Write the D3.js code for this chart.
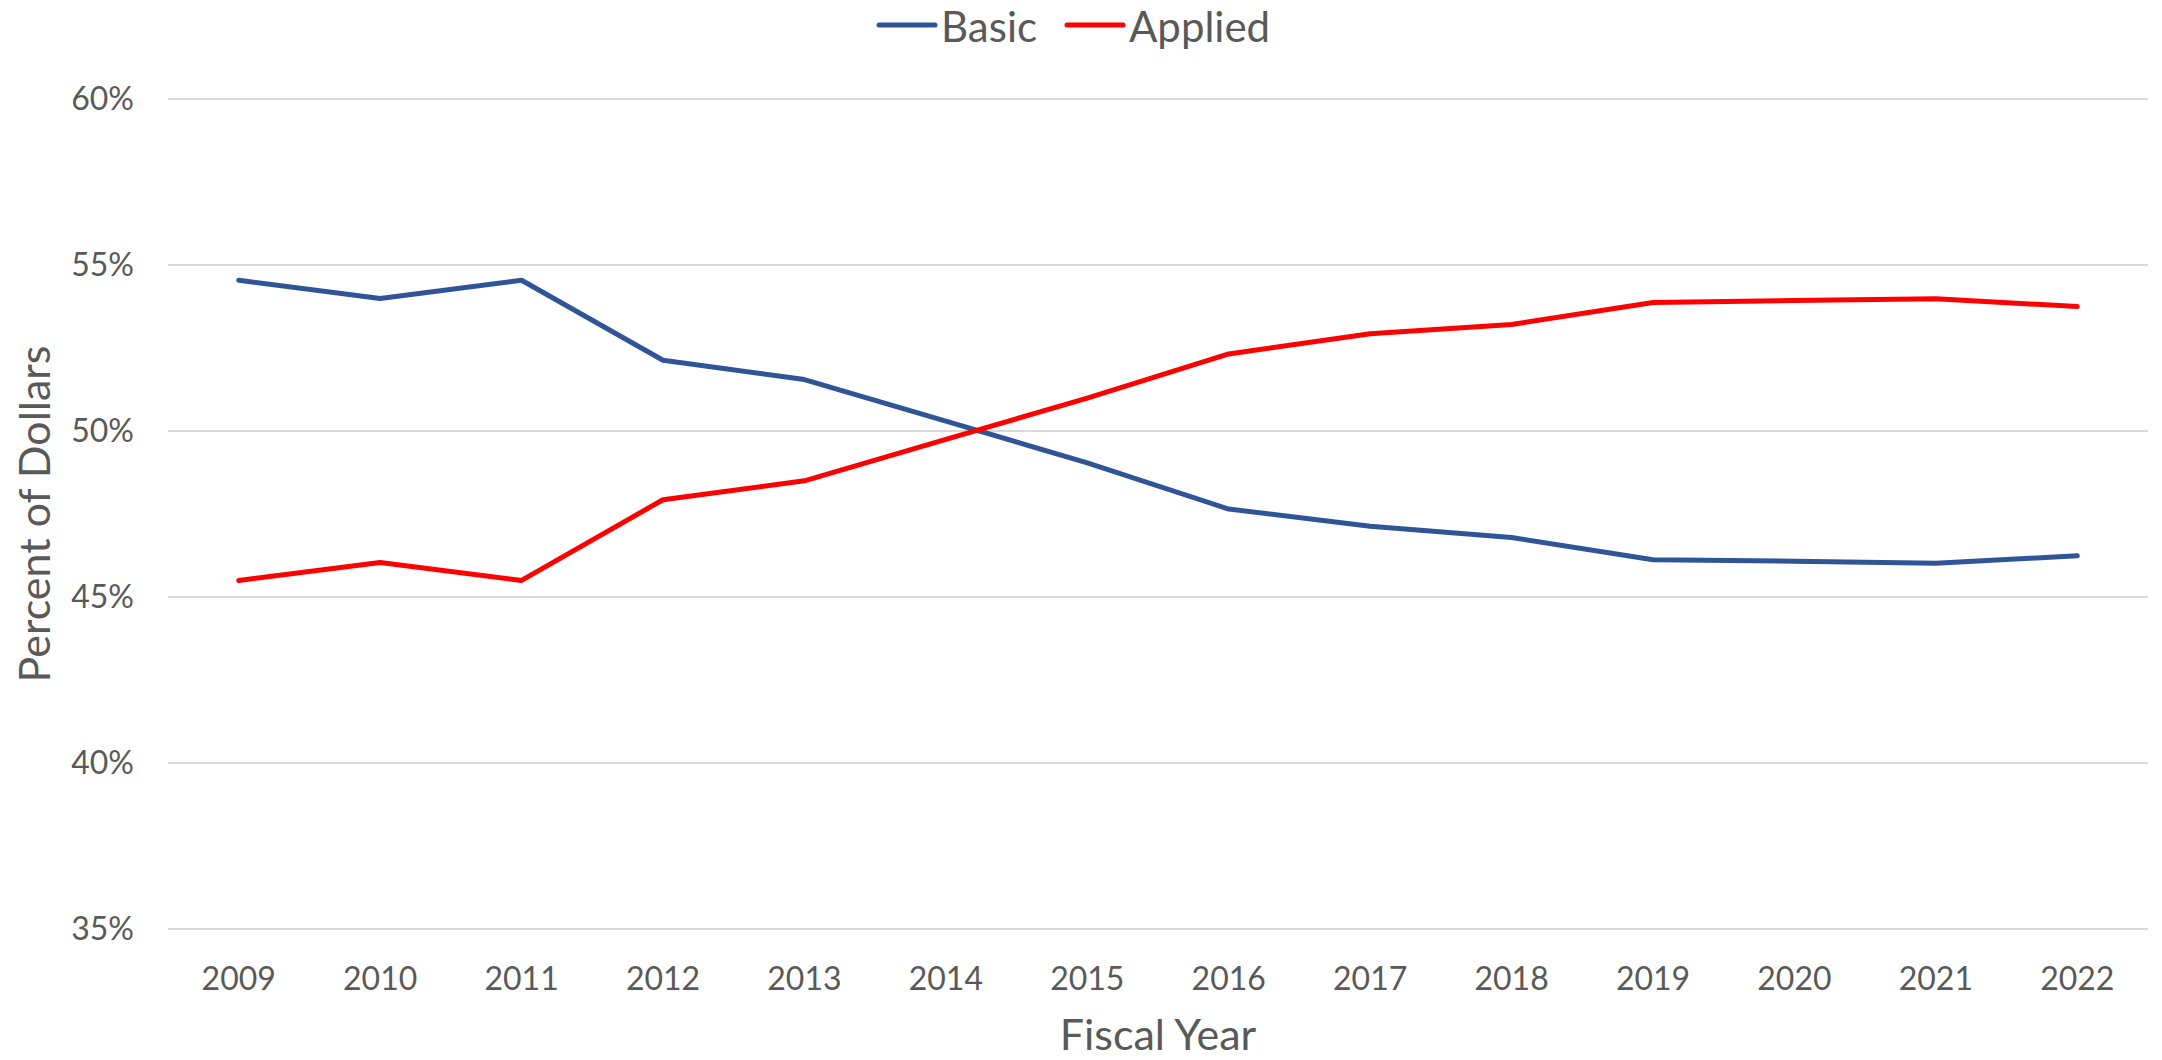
<!DOCTYPE html>
<html>
<head>
<meta charset="utf-8">
<script src="https://cdn.jsdelivr.net/npm/d3@7"></script>
<style>
  body { margin: 0; background: #fff; }
  text { font-family: Lato, "Open Sans", sans-serif; fill: #595959; }
</style>
</head>
<body>
<div id="chart"></div>
<script>
const years = ['2009', '2010', '2011', '2012', '2013', '2014', '2015', '2016', '2017', '2018', '2019', '2020', '2021', '2022'];
const basic = [54.54, 53.99, 54.54, 52.13, 51.55, 50.30, 49.04, 47.65, 47.13, 46.79, 46.12, 46.08, 46.02, 46.24];
const applied = [45.50, 46.04, 45.50, 47.93, 48.50, 49.75, 50.99, 52.32, 52.93, 53.21, 53.87, 53.93, 53.98, 53.75];
const yTicks = [35, 40, 45, 50, 55, 60];
const seriesNames = ['Basic', 'Applied'];
const seriesColors = ['#2f5597', '#ff0000'];

const width = 2162, height = 1060;
const margin = { left: 168, right: 14, top: 99, bottom: 131 };

const svg = d3.select('#chart')
    .append('svg')
    .attr('width', width)
    .attr('height', height);

const x = d3.scaleBand()
    .domain(years)
    .range([margin.left, width - margin.right]);

const y = d3.scaleLinear()
    .domain([35, 60])
    .range([height - margin.bottom, margin.top]);

// gridlines
svg.append('g')
    .selectAll('line')
    .data(yTicks)
    .enter()
    .append('line')
    .attr('x1', margin.left)
    .attr('x2', width - margin.right)
    .attr('y1', d => y(d))
    .attr('y2', d => y(d))
    .attr('stroke', '#d9d9d9')
    .attr('stroke-width', 2);

// y axis labels
const yAxis = svg.append('g')
    .attr('transform', `translate(134,0)`)
    .call(d3.axisLeft(y).tickValues(yTicks).tickFormat(d => d + '%').tickSize(0).tickPadding(0));
yAxis.select('.domain').remove();
yAxis.selectAll('text')
    .attr('font-size', 32)
    .attr('fill', '#595959')
    .style('font-family', 'Lato, "Open Sans", sans-serif');

// x axis labels
const xAxis = svg.append('g')
    .attr('transform', `translate(0,${height - margin.bottom})`)
    .call(d3.axisBottom(x).tickSize(0).tickPadding(38));
xAxis.select('.domain').remove();
xAxis.selectAll('text')
    .attr('font-size', 32)
    .attr('fill', '#595959')
    .style('font-family', 'Lato, "Open Sans", sans-serif');

// axis titles
svg.append('text')
    .attr('x', (margin.left + width - margin.right) / 2)
    .attr('y', 1050)
    .attr('text-anchor', 'middle')
    .attr('font-size', 43)
    .text('Fiscal Year');

svg.append('text')
    .attr('transform', `translate(50,${(y(35) + y(60)) / 2}) rotate(-90)`)
    .attr('text-anchor', 'middle')
    .attr('font-size', 43)
    .text('Percent of Dollars');

// lines
const line = d3.line()
    .x((d, i) => x(years[i]) + x.bandwidth() / 2)
    .y(d => y(d));

[basic, applied].forEach((s, k) => {
    svg.append('path')
        .datum(s)
        .attr('d', line)
        .attr('fill', 'none')
        .attr('stroke', seriesColors[k])
        .attr('stroke-width', 5)
        .attr('stroke-linecap', 'round')
        .attr('stroke-linejoin', 'round');
});

// legend
const legendX = [879, 1067];
seriesNames.forEach((name, k) => {
    const g = svg.append('g').attr('transform', `translate(${legendX[k]},25)`);
    g.append('line')
        .attr('x1', 0).attr('x2', 56)
        .attr('y1', 0).attr('y2', 0)
        .attr('stroke', seriesColors[k])
        .attr('stroke-width', 5)
        .attr('stroke-linecap', 'round');
    g.append('text')
        .attr('x', 62)
        .attr('y', 17)
        .attr('font-size', 42)
        .text(name);
});
</script>
</body>
</html>
